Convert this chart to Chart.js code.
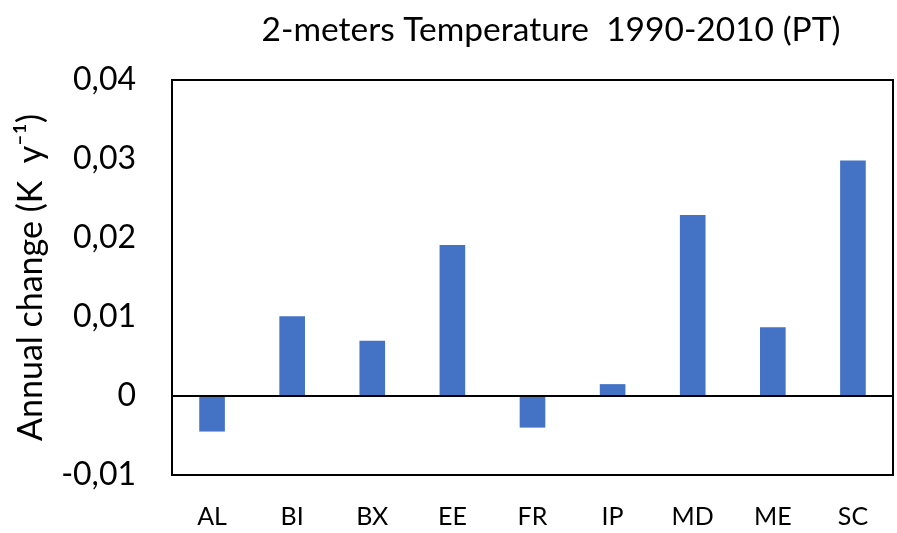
<!DOCTYPE html>
<html>
<head>
<meta charset="utf-8">
<script src="https://cdn.jsdelivr.net/npm/chart.js@4/dist/chart.umd.min.js"></script>
<style>
  html, body { margin: 0; padding: 0; background: #fff; }
  #wrap { width: 897px; height: 533px; }
</style>
</head>
<body>
<div id="wrap"><canvas id="tempChart" width="897" height="533"></canvas></div>
<script>
// regions and annual change values
const regions = ['AL', 'BI', 'BX', 'EE', 'FR', 'IP', 'MD', 'ME', 'SC'];
const annualChange = [-0.0045, 0.0101, 0.0070, 0.0191, -0.0040, 0.0015, 0.0229, 0.0087, 0.0298];
const yTicks = [-0.01, 0, 0.01, 0.02, 0.03, 0.04];

const chartTitle = '2-meters Temperature  1990-2010 (PT)';
const FONT = 'Lato, "Open Sans", sans-serif';

// title + box around plot area
const framePlugin = {
    id: 'frame',
    afterDraw(chart) {
        const { ctx, chartArea } = chart;
        ctx.save();
        ctx.strokeStyle = '#000';
        ctx.lineWidth = 2;
        ctx.strokeRect(chartArea.left, chartArea.top, chartArea.right - chartArea.left, chartArea.bottom - chartArea.top);
        ctx.fillStyle = '#000';
        ctx.font = '33.5px ' + FONT;
        ctx.textAlign = 'center';
        ctx.textBaseline = 'middle';
        ctx.fillText(chartTitle, 551, 30);
        ctx.restore();
    }
};

new Chart(document.getElementById('tempChart'), {
    type: 'bar',
    data: {
        labels: regions,
        datasets: [{
            data: annualChange,
            backgroundColor: '#4472c4',
            borderWidth: 0,
            categoryPercentage: 1,
            barPercentage: 0.32
        }]
    },
    options: {
        responsive: false,
        animation: false,
        layout: { padding: { top: 80, right: 4, left: 0, bottom: 0 } },
        plugins: {
            legend: { display: false },
            tooltip: { enabled: false }
        },
        scales: {
            x: {
                grid: { display: false, drawTicks: false },
                border: { display: false },
                ticks: {
                    color: '#000',
                    padding: 27,
                    font: { family: FONT, size: 25 }
                },
                afterFit(axis) { axis.height = 58; }
            },
            y: {
                min: -0.01,
                max: 0.04,
                afterBuildTicks(axis) { axis.ticks = yTicks.map(v => ({ value: v })); },
                grid: {
                    drawTicks: false,
                    lineWidth: 2,
                    color: c => (c.tick && Math.abs(c.tick.value) < 1e-9) ? '#000' : 'rgba(0,0,0,0)'
                },
                border: { display: false },
                ticks: {
                    color: '#000',
                    padding: 36,
                    font: { family: FONT, size: 32 },
                    callback: v => Math.abs(v) < 1e-9 ? '0' : v.toFixed(2).replace('.', ',')
                },
                title: {
                    display: true,
                    text: 'Annual change (K  y⁻¹)',
                    color: '#000',
                    font: { family: FONT, size: 34 },
                    padding: { top: 11, bottom: 0 }
                },
                afterFit(axis) { axis.width = 172; }
            }
        }
    },
    plugins: [framePlugin]
});
</script>
</body>
</html>
